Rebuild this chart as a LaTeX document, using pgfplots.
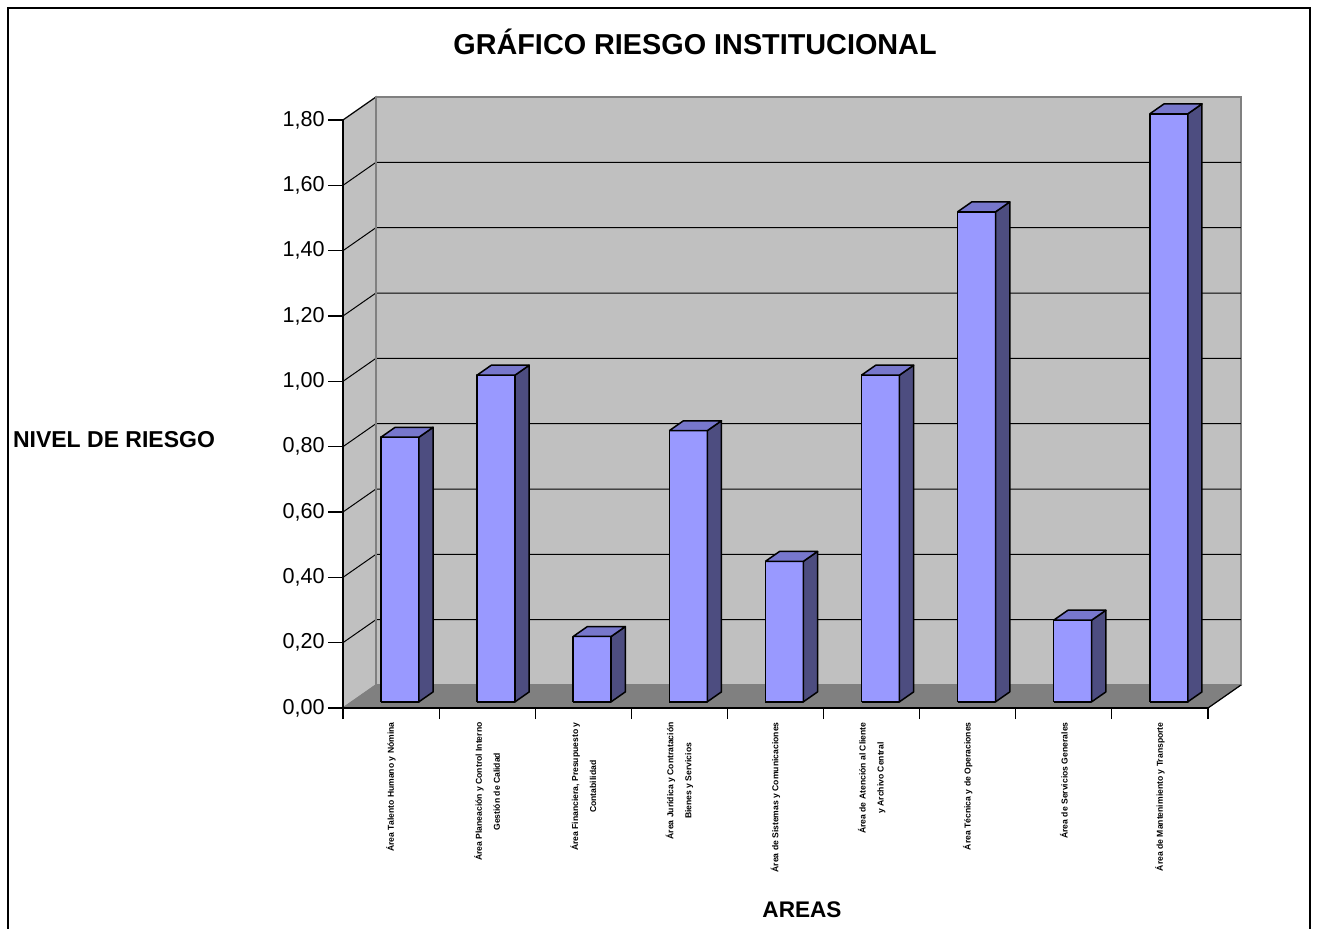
\documentclass[border=0pt]{standalone}
\usepackage{pgfplots}
\pgfplotsset{compat=1.18}
\usepackage{pgfplotstable}
\usepackage{fontspec}
\setmainfont{Liberation Sans}

\definecolor{wall}{RGB}{192,192,192}
\definecolor{floorc}{RGB}{128,128,128}
\definecolor{edge}{RGB}{128,128,128}
\definecolor{barfront}{RGB}{153,153,255}
\definecolor{barside}{RGB}{77,77,128}
\definecolor{bartop}{RGB}{119,119,204}

\pgfplotstableread{
x v
0 0.81
1 1.00
2 0.20
3 0.83
4 0.43
5 1.00
6 1.50
7 0.25
8 1.80
}\riesgo

% depth geometry (axis units)
\def\DX{0.343}
\def\DY{0.0704}
\def\SX{0.0926}
\def\SY{0.019}
\def\BW{0.1975}
\def\DDX{0.1475}
\def\DDY{0.0303}

\begin{document}
\begin{tikzpicture}
\useasboundingbox (0,0) rectangle (659pt,464pt);
\draw[black, line width=0.6pt] (4pt,-3pt) rectangle (655pt,460pt);
\node[font=\bfseries\fontsize{14.4}{17}\selectfont] at (347.5pt,443pt) {GRÁFICO RIESGO INSTITUCIONAL};
\node[font=\bfseries\fontsize{11.5}{14}\selectfont] at (57pt,244pt) {NIVEL DE RIESGO};
\node[font=\bfseries\fontsize{11.3}{14}\selectfont] at (401pt,9pt) {AREAS};
\begin{axis}[
  at={(171.5pt,110pt)}, anchor=south west,
  scale only axis, width=432.5pt, height=294pt,
  xmin=-0.5, xmax=8.5, ymin=0, ymax=1.8,
  clip=false,
  axis on top,
  axis x line*=bottom, axis y line*=left,
  axis line style={black, line width=0.6pt},
  tick align=outside,
  xtick={0,...,8},
  minor xtick={-0.5,0.5,...,8.5},
  major tick length=7.5pt,
  minor tick length=5.5pt,
  every major x tick/.style={draw=none},
  tick style={black, line width=0.6pt},
  ytick={0,0.2,...,1.8},
  /pgf/number format/.cd, fixed, fixed zerofill, precision=2, use comma, assume math mode=true,
  /pgfplots/.cd,
  yticklabel style={font=\fontsize{10.8}{12}\selectfont, inner sep=1pt, xshift=-0.5pt},
  xticklabels={
    {Área Talento Humano y Nómina},
    {Área Planeación y Control Interno\\Gestión de Calidad},
    {Área Financiera, Presupuesto y\\Contabilidad},
    {Área Jurídica y Contratación\\Bienes y Servicios},
    {Área de Sistemas y Comunicaciones},
    {Área de Atención al Cliente\\y Archivo Central},
    {Área Técnica y de Operaciones},
    {Área de Servicios Generales},
    {Área de Mantenimiento y Transporte}},
  xticklabel style={rotate=90, anchor=east, align=center,
    font=\bfseries\fontsize{4.3}{9}\selectfont, inner sep=0pt, xshift=-2pt},
  xticklabel shift=-2.5pt,
]
% side wall
\addplot[fill=wall, draw=edge, line width=0.7pt] coordinates
  {(-0.5,0) (-0.5+\DX,\DY) (-0.5+\DX,1.8+\DY) (-0.5,1.8) (-0.5,0)};
% back wall
\addplot[fill=wall, draw=edge, line width=0.8pt] coordinates
  {(-0.5+\DX,\DY) (8.5+\DX,\DY) (8.5+\DX,1.8+\DY) (-0.5+\DX,1.8+\DY) (-0.5+\DX,\DY)};
% gridlines
\pgfplotsinvokeforeach{0.2,0.4,0.6,0.8,1.0,1.2,1.4,1.6}{
  \draw[black, line width=0.5pt] (axis cs:-0.5,#1) -- (axis cs:-0.5+\DX,#1+\DY) -- (axis cs:8.5+\DX,#1+\DY);
}
\draw[black, line width=0.5pt] (axis cs:-0.5,1.8) -- (axis cs:-0.5+\DX,1.8+\DY);
\draw[edge, line width=0.8pt] (axis cs:-0.5+\DX,\DY) -- (axis cs:-0.5+\DX,1.8+\DY) -- (axis cs:8.5+\DX,1.8+\DY);
% floor
\addplot[fill=floorc, draw=edge, line width=0.5pt] coordinates
  {(-0.5,0) (8.5,0) (8.5+\DX,\DY) (-0.5+\DX,\DY) (-0.5,0)};
\draw[black, line width=0.6pt] (axis cs:8.5,0) -- (axis cs:8.5+\DX,\DY);
% bars
\pgfplotsinvokeforeach{0,...,8}{
  \pgfplotstablegetelem{#1}{v}\of\riesgo
  \pgfmathsetmacro\vv{\pgfplotsretval}
  \pgfmathsetmacro\xl{#1+\SX-\BW}
  \pgfmathsetmacro\xr{#1+\SX+\BW}
  \pgfmathsetmacro\yb{\SY}
  \pgfmathsetmacro\yt{\vv+\SY}
  \pgfmathsetmacro\xlb{\xl+\DDX}
  \pgfmathsetmacro\xrb{\xr+\DDX}
  \pgfmathsetmacro\ybb{\yb+\DDY}
  \pgfmathsetmacro\ytb{\yt+\DDY}
  \edef\tmp{%
    \noexpand\addplot[fill=barfront, draw=black, line width=0.75pt, line join=round] coordinates
      {(\xl,\yb) (\xr,\yb) (\xr,\yt) (\xl,\yt) (\xl,\yb)};
    \noexpand\addplot[fill=barside, draw=black, line width=0.75pt, line join=round] coordinates
      {(\xr,\yb) (\xrb,\ybb) (\xrb,\ytb) (\xr,\yt) (\xr,\yb)};
    \noexpand\addplot[fill=bartop, draw=black, line width=0.75pt, line join=round] coordinates
      {(\xl,\yt) (\xr,\yt) (\xrb,\ytb) (\xlb,\ytb) (\xl,\yt)};
  }%
  \tmp
}
\end{axis}
\end{tikzpicture}
\end{document}
